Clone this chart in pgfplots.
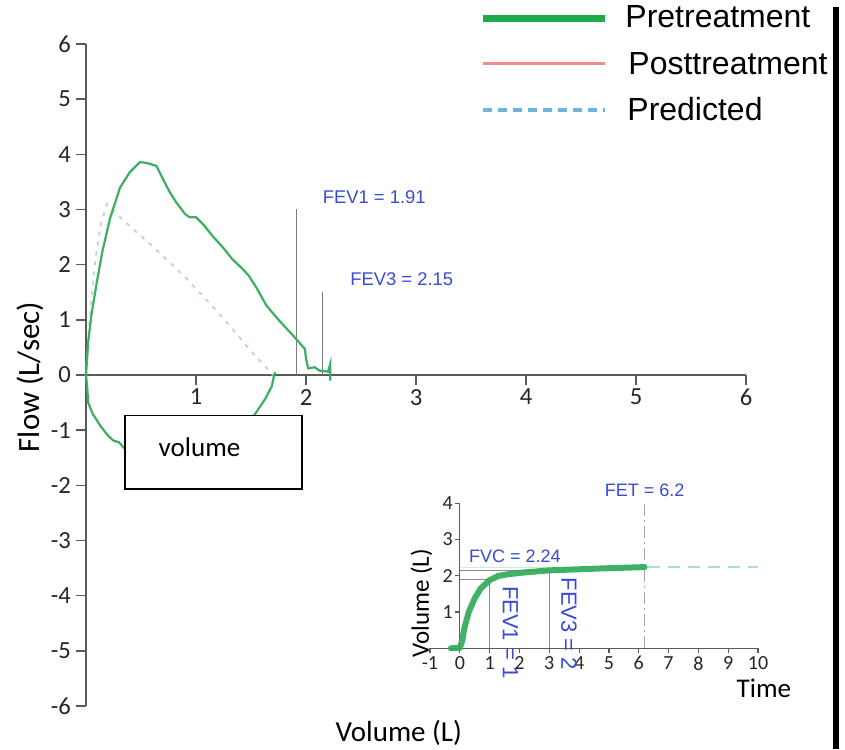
\documentclass[border=0pt]{standalone}
\usepackage{fontspec}
\setmainfont{Liberation Sans}
\newfontfamily\calfont{Carlito}
\usepackage{pgfplots}
\pgfplotsset{compat=1.18}
\definecolor{curveGreen}{RGB}{60,175,100}
\definecolor{legGreen}{RGB}{30,170,75}
\definecolor{insetGreen}{RGB}{45,170,85}
\definecolor{postPink}{RGB}{240,140,135}
\definecolor{predBlue}{RGB}{110,180,225}
\definecolor{predFaint}{RGB}{195,215,205}
\definecolor{predGreenDash}{RGB}{170,225,200}
\definecolor{blueText}{RGB}{55,75,215}
\definecolor{axisGray}{RGB}{90,90,90}
\begin{document}
\begin{tikzpicture}
\useasboundingbox (0,0) rectangle (422.5pt,374.5pt);
\fill[white] (0,0) rectangle (422.5pt,374.5pt);
% ---------------- main flow-volume axis ----------------
\begin{axis}[
  at={(43pt,21.5pt)}, anchor=south west,
  scale only axis, width=330pt, height=331pt,
  xmin=0, xmax=6, ymin=-6, ymax=6,
  axis x line=middle, axis y line=left,
  axis line style={-, draw=axisGray, line width=0.8pt},
  xtick={1,2,3,4,5,6}, ytick={-6,-5,-4,-3,-2,-1,0,1,2,3,4,5,6},
  tick align=outside, major tick length=5pt,
  tick style={draw=axisGray, line width=0.8pt},
  /pgf/number format/assume math mode=true,
  tick label style={font=\calfont\fontsize{12.3}{14}\selectfont, text=black!85},
  yticklabel style={xshift=1pt},
  xticklabel style={yshift=1.5pt},
  every axis x label/.style={at={(axis description cs:0.474,-0.041)}, anchor=center, font=\calfont\fontsize{14.5}{16}\selectfont},
  every axis y label/.style={at={(axis description cs:-0.085,0.497)}, anchor=center, rotate=90, font=\calfont\fontsize{15.5}{17}\selectfont},
  xlabel={Volume (L)}, ylabel={Flow (L/sec)},
  clip=false,
]
% predicted (faint dotted)
\addplot[predFaint, line width=1pt, dash pattern=on 2pt off 3pt] coordinates {
(0,0) (0.03,0.9) (0.08,2.0) (0.13,2.7) (0.19,3.1) (0.30,2.88) (0.43,2.64) (0.58,2.38)
(0.73,2.1) (0.88,1.82) (1.03,1.5) (1.18,1.18) (1.33,0.84) (1.48,0.48) (1.60,0.22) (1.70,0)};
% FEV markers
\addplot[axisGray!80, line width=0.5pt] coordinates {(1.91,0) (1.91,3.0)};
\addplot[axisGray!80, line width=0.5pt] coordinates {(2.15,0) (2.15,1.5)};
% pretreatment expiratory curve
\addplot[curveGreen, line width=1.1pt] coordinates {
(0,0) (0.02,0.6) (0.05,1.1) (0.1,1.7) (0.15,2.25) (0.22,2.85) (0.31,3.4) (0.40,3.68)
(0.49,3.86) (0.56,3.84) (0.64,3.79) (0.70,3.55) (0.76,3.32) (0.82,3.13) (0.90,2.92)
(0.94,2.86) (1.00,2.86) (1.07,2.72) (1.15,2.52) (1.25,2.30) (1.33,2.10) (1.42,1.93)
(1.48,1.80) (1.55,1.58) (1.64,1.26) (1.75,1.00) (1.885,0.71) (1.99,0.47) (2.00,0.30)
(2.02,0.12) (2.08,0.14) (2.12,0.08) (2.20,0.06) (2.22,0.2) (2.22,-0.1) (2.22,0.05)};
% pretreatment inspiratory curve
\addplot[curveGreen, line width=1.1pt] coordinates {
(0,0) (0.01,-0.2) (0.02,-0.5) (0.06,-0.7) (0.13,-0.92) (0.20,-1.1) (0.25,-1.19)
(0.30,-1.22) (0.34,-1.31) (0.40,-1.45) (0.8,-1.7) (1.2,-1.5) (1.45,-0.95) (1.536,-0.71)
(1.63,-0.43) (1.69,-0.2) (1.71,0) (1.72,0.05)};
% volume box
\draw[black, line width=0.8pt, fill=white] (axis cs:0.355,-0.737) rectangle (axis cs:1.966,-2.065);
\node[anchor=west, font=\calfont\fontsize{13.5}{15}\selectfont] at (axis cs:0.597,-1.31) {volume};
\node[text=blueText, font=\fontsize{9.2}{11}\selectfont] at (axis cs:2.62,3.22) {FEV1 = 1.91};
\node[text=blueText, font=\fontsize{9.2}{11}\selectfont] at (axis cs:2.87,1.74) {FEV3 = 2.15};
\end{axis}
% ---------------- inset volume-time axis ----------------
\begin{axis}[
  at={(215pt,50.35pt)}, anchor=south west,
  scale only axis, width=164pt, height=72.5pt,
  xmin=-1, xmax=10, ymin=0, ymax=4,
  axis x line=bottom, axis y line=middle,
  axis line style={-, draw=axisGray, line width=0.6pt},
  xtick={-1,0,1,2,3,4,5,6,7,8,9,10}, ytick={1,2,3,4},
  tick align=outside, major tick length=2.5pt,
  tick style={draw=axisGray, line width=0.6pt},
  /pgf/number format/assume math mode=true,
  tick label style={font=\calfont\fontsize{10}{11}\selectfont, text=black!85},
  yticklabel style={xshift=2.5pt},
  xticklabel style={yshift=2pt},
  every axis x label/.style={at={(axis description cs:1.018,-0.274)}, anchor=center, font=\calfont\fontsize{13.5}{15}\selectfont},
  every axis y label/.style={at={(axis description cs:-0.026,0.31)}, anchor=center, rotate=90, font=\calfont\fontsize{12.5}{14}\selectfont},
  xlabel={Time}, ylabel={Volume (L)},
  clip=false,
]
\addplot[predGreenDash!60, line width=0.6pt] coordinates {(0,2.24) (6.2,2.24)};
\addplot[predGreenDash, line width=0.8pt, dash pattern=on 6pt off 4pt] coordinates {(6.3,2.24) (10,2.24)};
\addplot[axisGray!70, line width=0.5pt] coordinates {(0,1.91) (1,1.91) (1,0)};
\addplot[axisGray!70, line width=0.5pt] coordinates {(0,2.15) (3,2.15) (3,0)};
\addplot[black!35, line width=0.6pt, dash pattern=on 6pt off 2pt on 1pt off 2pt] coordinates {(6.2,0) (6.2,4.05)};
\addplot[insetGreen, opacity=0.9, line width=3pt, line cap=round] coordinates {
(-0.3,0) (0,0.02) (0.08,0.2) (0.15,0.55) (0.3,1.0) (0.5,1.38) (0.7,1.65) (1.0,1.88)
(1.3,2.0) (1.6,2.04) (2.0,2.08) (3.0,2.15) (4.0,2.18) (5.0,2.21) (6.2,2.24)};
\node[text=blueText, font=\fontsize{9}{11}\selectfont] at (axis cs:1.85,2.53) {FVC = 2.24};
\node[text=blueText, font=\fontsize{9}{11}\selectfont] at (axis cs:6.2,4.36) {FET = 6.2};
\node[text=blueText, rotate=-90, font=\fontsize{11}{13}\selectfont] at (axis cs:1.70,0.44) {FEV1 = 1};
\node[text=blueText, rotate=-90, font=\fontsize{11}{13}\selectfont] at (axis cs:3.66,0.67) {FEV3 = 2};
\end{axis}
% ---------------- legend ----------------
\draw[legGreen, line width=3.5pt] (241.5pt,365pt) -- (302.5pt,365pt);
\node[anchor=base west, inner sep=0pt, font=\fontsize{16}{18}\selectfont] at (312.5pt,360.5pt) {Pretreatment};
\draw[postPink, line width=1.5pt] (241.5pt,342.5pt) -- (302.5pt,342.5pt);
\node[anchor=base west, inner sep=0pt, font=\fontsize{16}{18}\selectfont] at (314pt,337pt) {Posttreatment};
\draw[predBlue, line width=2pt, dash pattern=on 4.5pt off 3pt] (241.5pt,319.5pt) -- (302.5pt,319.5pt);
\node[anchor=base west, inner sep=0pt, font=\fontsize{16}{18}\selectfont] at (313.5pt,314pt) {Predicted};
\draw[black, line width=3pt] (418pt,0pt) -- (418pt,371pt);
\end{tikzpicture}
\end{document}
